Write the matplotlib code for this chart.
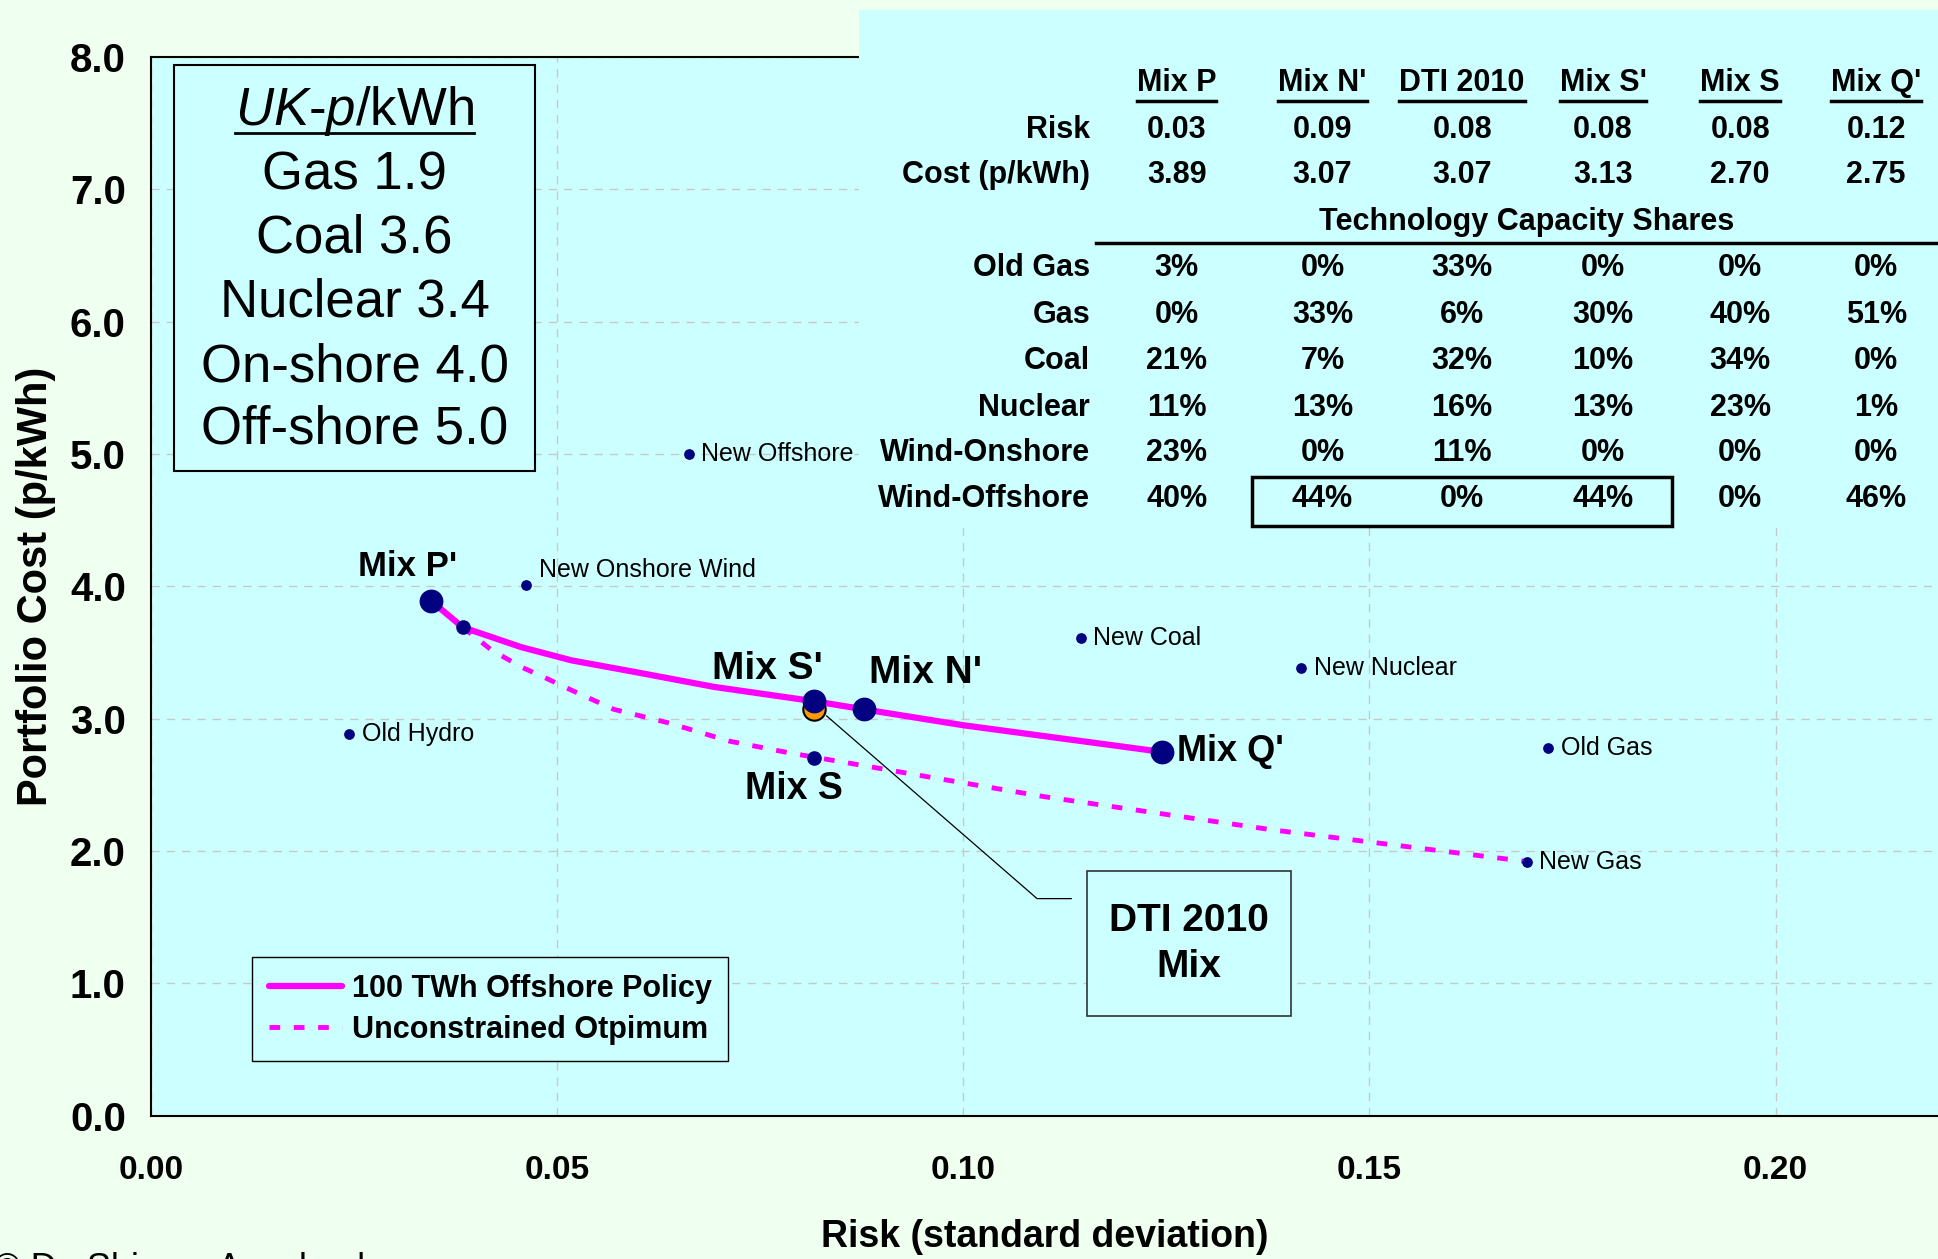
import matplotlib
matplotlib.use("Agg")
import matplotlib.pyplot as plt
from matplotlib.patches import Rectangle
from matplotlib.lines import Line2D

# 100 TWh offshore policy frontier
policy_x = [0.0345, 0.0384, 0.0456, 0.0518, 0.0598, 0.0693, 0.0818, 0.0878, 0.100, 0.1243]
policy_y = [3.89, 3.69, 3.54, 3.44, 3.35, 3.24, 3.13, 3.07, 2.95, 2.75]
# unconstrained optimum frontier
opt_x = [0.0384, 0.0419, 0.0456, 0.0485, 0.0516, 0.0570, 0.0636, 0.0712, 0.0787,
         0.0882, 0.0957, 0.110, 0.138, 0.1694]
opt_y = [3.69, 3.52, 3.39, 3.31, 3.22, 3.07, 2.97, 2.83, 2.74, 2.64, 2.56, 2.41, 2.16, 1.92]

# single technologies
tech_names = ['New Offshore', 'New Onshore Wind', 'Old Hydro', 'New Coal',
              'New Nuclear', 'Old Gas', 'New Gas']
tech_x = [0.0662, 0.0462, 0.0244, 0.1145, 0.1416, 0.172, 0.1694]
tech_y = [5.00, 4.01, 2.88, 3.61, 3.38, 2.78, 1.92]

# named mixes
mix_names = ["Mix P'", "Mix S'", "Mix N'", "Mix Q'"]
mix_x = [0.0345, 0.0817, 0.0878, 0.1245]
mix_y = [3.89, 3.13, 3.07, 2.75]
mixS_x, mixS_y = 0.0817, 2.70
extra_x, extra_y = 0.0384, 3.69
dti_x, dti_y = 0.0817, 3.07

uk_title = 'UK-p/kWh'
uk_lines = ['Gas 1.9', 'Coal 3.6', 'Nuclear 3.4', 'On-shore 4.0', 'Off-shore 5.0']

# table
tbl_cols = ['Mix P', "Mix N'", 'DTI 2010', "Mix S'", 'Mix S', "Mix Q'"]
tbl_risk = ['0.03', '0.09', '0.08', '0.08', '0.08', '0.12']
tbl_cost = ['3.89', '3.07', '3.07', '3.13', '2.70', '2.75']
tbl_rows = ['Old Gas', 'Gas', 'Coal', 'Nuclear', 'Wind-Onshore', 'Wind-Offshore']
tbl_shares = [
    ['3%', '0%', '33%', '0%', '0%', '0%'],
    ['0%', '33%', '6%', '30%', '40%', '51%'],
    ['21%', '7%', '32%', '10%', '34%', '0%'],
    ['11%', '13%', '16%', '13%', '23%', '1%'],
    ['23%', '0%', '11%', '0%', '0%', '0%'],
    ['40%', '44%', '0%', '44%', '0%', '46%'],
]

NAVY = '#000080'
MAG = '#ff00ff'
CYAN = '#ccffff'
plt.rcParams['font.family'] = ['Liberation Sans', 'DejaVu Sans']
plt.rcParams['mathtext.fontset'] = 'custom'
plt.rcParams['mathtext.it'] = 'Liberation Sans:italic'
plt.rcParams['mathtext.rm'] = 'Liberation Sans'

W, H = 1568, 1019   # layout reference grid


def fx(px):
    return px / W


def fy(py):
    return 1 - py / H


fig = plt.figure(figsize=(19.38, 12.59), dpi=100, facecolor='#effff0')
ax = fig.add_axes([fx(122), fy(903), fx(1568) - fx(122), fy(46) - fy(903)])
ax.set_facecolor(CYAN)
ax.set_xlim(0, 0.22)
ax.set_ylim(0, 8)
ax.set_xticks([0, 0.05, 0.10, 0.15, 0.20])
ax.set_xticklabels(['0.00', '0.05', '0.10', '0.15', '0.20'])
ax.set_yticks(range(9))
ax.set_yticklabels(['%.1f' % v for v in range(9)])
ax.tick_params(length=0)
ax.tick_params(axis='x', pad=28, labelsize=24)
ax.tick_params(axis='y', pad=18, labelsize=29)
for lab in ax.get_xticklabels() + ax.get_yticklabels():
    lab.set_fontweight('bold')
ax.grid(True, color='#c8c8c8', linestyle=(0, (6, 5)), linewidth=1)
ax.set_axisbelow(True)
ax.spines['right'].set_visible(False)
for s in ['left', 'bottom', 'top']:
    ax.spines[s].set_linewidth(1.5)
ax.set_xlabel('Risk (standard deviation)', fontsize=27, fontweight='bold', labelpad=24)
ax.set_ylabel('Portfolio Cost (p/kWh)', fontsize=30, fontweight='bold', labelpad=10)

# frontiers
ax.plot(policy_x, policy_y, color=MAG, lw=4.5, solid_capstyle='round', zorder=3,
        label='100 TWh Offshore Policy')
ax.plot(opt_x, opt_y, color=MAG, lw=3.5, dashes=(2.2, 2.8), zorder=3,
        label='Unconstrained Otpimum')

# technologies
ax.scatter(tech_x, tech_y, s=45, color=NAVY, zorder=5)
for n, x, y in zip(tech_names, tech_x, tech_y):
    off = (9, 11) if n == 'New Onshore Wind' else (9, 0)
    ax.annotate(n, (x, y), xytext=off, textcoords='offset points', fontsize=18,
                va='center', ha='left', zorder=6)

# mixes
ax.scatter([dti_x], [dti_y], s=260, color='#ff9900', edgecolor='black', linewidth=1.5, zorder=5)
ax.scatter(mix_x, mix_y, s=260, color=NAVY, zorder=6)
ax.scatter([extra_x, mixS_x], [extra_y, mixS_y], s=90, color=NAVY, zorder=6)
mix_off = [(-17, 25, 'center', 25), (-34, 23, 'center', 28), (44, 26, 'center', 28),
           (11, 0, 'left', 26)]
for n, x, y, (dx, dy, ha, fs) in zip(mix_names, mix_x, mix_y, mix_off):
    ax.annotate(n, (x, y), xytext=(dx, dy), textcoords='offset points', fontsize=fs,
                fontweight='bold', ha=ha, va='center', zorder=7)
ax.annotate('Mix S', (mixS_x, mixS_y), xytext=(-15, -22), textcoords='offset points',
            fontsize=27, fontweight='bold', ha='center', va='center', zorder=7)

# DTI callout
ax.plot([0.0832, 0.1091, 0.1133], [3.02, 1.64, 1.64], color='black', lw=0.9, zorder=4)
ax.add_patch(Rectangle((0.1152, 0.75), 0.0252, 1.10, facecolor=CYAN, edgecolor='#333333',
                       lw=1.2, zorder=4))
ax.text(0.1278, 1.30, 'DTI 2010\nMix', fontsize=28, fontweight='bold',
        ha='center', va='center', linespacing=1.35, zorder=5)

# legend
leg = ax.legend(loc='lower left', bbox_to_anchor=(0.0568, 0.0513), borderaxespad=0,
                fancybox=False, edgecolor='black', facecolor=CYAN, framealpha=1,
                prop={'size': 22, 'weight': 'bold'}, handlelength=2.4, handletextpad=0.3,
                borderpad=0.55, labelspacing=0.35)
leg.get_frame().set_linewidth(1.0)

# UK cost box
ax.add_patch(Rectangle((0.013, 0.609), 0.2018, 0.383, transform=ax.transAxes,
                       facecolor=CYAN, edgecolor='black', lw=1.5, zorder=4))
uk_cx = (286.5 - 122) / 1443
uk_y = [0.9487, 0.888, 0.828, 0.768, 0.707, 0.648]
t_uk = ax.text(uk_cx, uk_y[0], r'$\it{UK}$-$\it{p}$/kWh', transform=ax.transAxes,
               fontsize=38, ha='center', va='center', zorder=5)
for s, y in zip(uk_lines, uk_y[1:]):
    ax.text(uk_cx, y, s, transform=ax.transAxes, fontsize=38, ha='center', va='center',
            zorder=5)

# table panel
fig.patches.append(Rectangle((fx(695), fy(427)), fx(1568) - fx(695), fy(8) - fy(427),
                             transform=fig.transFigure, facecolor=CYAN, edgecolor='none',
                             zorder=3))
col_x = [952, 1070, 1183, 1297, 1408, 1518]
lab_x = 882
row_y = {'head': 67, 'risk': 105, 'cost': 142, 'tech': 180}
share_y = [217, 255, 292, 330, 367, 404]
tkw = dict(fontsize=22, fontweight='bold', zorder=4, va='center')
heads = []
for c, x in zip(tbl_cols, col_x):
    heads.append(fig.text(fx(x), fy(row_y['head']), c, ha='center', **tkw))
fig.text(fx(lab_x), fy(row_y['risk']), 'Risk', ha='right', **tkw)
fig.text(fx(lab_x), fy(row_y['cost']), 'Cost (p/kWh)', ha='right', **tkw)
for x, r, c in zip(col_x, tbl_risk, tbl_cost):
    fig.text(fx(x), fy(row_y['risk']), r, ha='center', **tkw)
    fig.text(fx(x), fy(row_y['cost']), c, ha='center', **tkw)
fig.text(fx(1235), fy(row_y['tech']), 'Technology Capacity Shares', ha='center', **tkw)
fig.lines.append(Line2D([fx(887), fx(1568)], [fy(197), fy(197)], transform=fig.transFigure,
                        color='black', lw=2.5, zorder=4))
for name, vals, y in zip(tbl_rows, tbl_shares, share_y):
    fig.text(fx(lab_x), fy(y), name, ha='right', **tkw)
    for x, v in zip(col_x, vals):
        fig.text(fx(x), fy(y), v, ha='center', **tkw)
fig.patches.append(Rectangle((fx(1013), fy(426)), fx(1353) - fx(1013), fy(386) - fy(426),
                             transform=fig.transFigure, facecolor='none', edgecolor='black',
                             lw=2.5, zorder=5))

# copyright (clipped at the bottom edge, as in the source)
fig.text(-0.003, 1 - 1252 / 1259, '\u00a9 Dr. Shimon Awerbuch', fontsize=26, va='top',
         ha='left')

# underlines that depend on text extents
fig.canvas.draw()
r = fig.canvas.get_renderer()
inv = fig.transFigure.inverted()
for t in heads:
    bb = t.get_window_extent(r)
    (x0, y0), (x1, _) = inv.transform([(bb.x0, bb.y0), (bb.x1, bb.y1)])
    fig.lines.append(Line2D([x0, x1], [fy(82)] * 2, transform=fig.transFigure,
                            color='black', lw=2.5, zorder=4))
bb = t_uk.get_window_extent(r)
(x0, _), (x1, _) = inv.transform([(bb.x0, bb.y0), (bb.x1, bb.y1)])
fig.lines.append(Line2D([x0, x1], [fy(108)] * 2, transform=fig.transFigure,
                        color='black', lw=2, zorder=6))

fig.savefig('out.png', dpi=100, facecolor=fig.get_facecolor())
